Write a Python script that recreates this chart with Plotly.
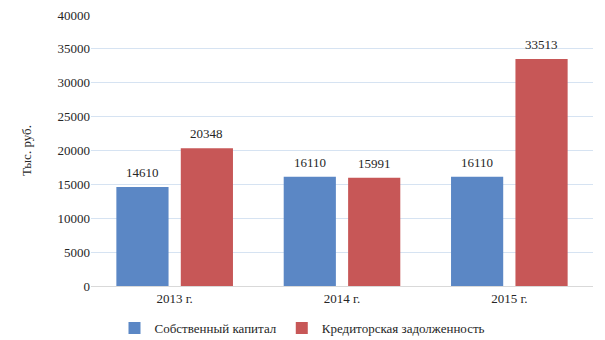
import plotly.graph_objects as go

years = ["2013 г.", "2014 г.", "2015 г."]
equity = [14610, 16110, 16110]
payables = [20348, 15991, 33513]
series_names = ["Собственный капитал", "Кредиторская задолженность"]

FONT = "Liberation Serif"
TXT = "#262626"

fig = go.Figure()
fig.add_trace(go.Bar(
    x=years, y=equity, name=series_names[0],
    marker=dict(color="#5b87c5", line=dict(width=0)),
))
fig.add_trace(go.Bar(
    x=years, y=payables, name=series_names[1],
    marker=dict(color="#c75757", line=dict(width=0)),
))

# value labels above each bar, offset left/right within the group
for vals, dx in ((equity, -32), (payables, 32)):
    for yr, v in zip(years, vals):
        fig.add_annotation(x=yr, y=v, text=str(v), showarrow=False,
                           xshift=dx, yshift=5, yanchor="bottom",
                           font=dict(family=FONT, size=13, color=TXT))

fig.update_layout(
    width=605, height=340,
    margin=dict(l=91, r=12, t=15, b=54, autoexpand=False),
    paper_bgcolor="white", plot_bgcolor="white",
    barmode="group", bargap=0.23, bargroupgap=0.19,
    font=dict(family=FONT, size=13, color=TXT),
    showlegend=True,
    legend=dict(orientation="h", x=0.5, xanchor="center", xref="container",
                y=0.035, yanchor="middle", yref="container",
                font=dict(family=FONT, size=13, color=TXT),
                itemwidth=30, tracegroupgap=0),
)
fig.update_xaxes(showgrid=False, showline=True, linecolor="#d9d9d9", linewidth=1,
                 ticks="", tickfont=dict(family=FONT, size=13, color=TXT))
fig.update_yaxes(range=[0, 40000], dtick=5000, showgrid=True, gridcolor="#d6e3f2",
                 gridwidth=1, zeroline=False, showline=False, ticks="",
                 tickformat="d", tickfont=dict(family=FONT, size=13, color=TXT),
                 title=dict(text="Тыс. руб.", font=dict(family=FONT, size=13, color=TXT),
                            standoff=22))

fig.write_html("out.html")
